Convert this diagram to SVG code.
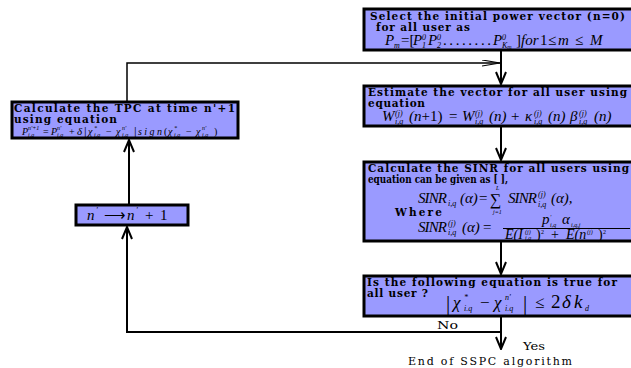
<svg xmlns="http://www.w3.org/2000/svg" width="631" height="368" viewBox="0 0 631 368">
<style>
.box{fill:#9a9aff;stroke:#000;stroke-width:3}
.t{font-family:"DejaVu Serif","Liberation Serif",serif;font-weight:bold;font-size:10.5px;fill:#000}
.m{font-family:"Liberation Serif",serif;font-style:italic;font-size:15px;fill:#000}
.u{font-style:normal}
.s{font-size:8px}
.ss{font-size:6px}
.ln{stroke:#000;stroke-width:2;fill:none}
.lab{font-family:"DejaVu Serif","Liberation Serif",serif;font-size:11px;fill:#000}
</style>
<defs>
<marker id="v" viewBox="0 0 14 12" markerWidth="14" markerHeight="12" refX="13" refY="6" orient="auto" markerUnits="userSpaceOnUse">
<path d="M1,1 L13,6 L1,11" fill="none" stroke="#000" stroke-width="2"/>
</marker>
<marker id="th" viewBox="0 0 19 7" markerWidth="19" markerHeight="7" refX="18" refY="3.5" orient="auto" markerUnits="userSpaceOnUse">
<path d="M0,0.5 L18,3.5 L0,6.5" fill="none" stroke="#000" stroke-width="1.2"/>
</marker>
</defs>

<g id="connectors">
<line class="ln" x1="501" y1="51" x2="501" y2="84" marker-end="url(#v)"/>
<line class="ln" x1="501" y1="126" x2="501" y2="160" marker-end="url(#v)"/>
<line class="ln" x1="501" y1="241" x2="501" y2="274" marker-end="url(#v)"/>
<line class="ln" x1="501" y1="317" x2="501" y2="349" marker-end="url(#v)"/>
<polyline class="ln" points="501,332 127,332 127,227" marker-end="url(#v)"/>
<line class="ln" x1="129" y1="204" x2="129" y2="140" marker-end="url(#v)"/>
<polyline points="127,101 127,63 500,63" fill="none" stroke="#000" stroke-width="1.5" marker-end="url(#th)"/>
<text class="lab" x="437" y="329" textLength="21" lengthAdjust="spacingAndGlyphs">No</text>
<text class="lab" x="523" y="350" textLength="22" lengthAdjust="spacingAndGlyphs">Yes</text>
<text class="lab" x="408" y="365" textLength="164" lengthAdjust="spacing">End of SSPC algorithm</text>
</g>

<g id="select">
<rect class="box" x="364" y="9" width="275" height="41"/>
<text class="t" x="370" y="20" textLength="255" lengthAdjust="spacing">Select the initial power vector (n=0)</text>
<text class="t" x="376" y="31" textLength="94" lengthAdjust="spacing">for all user as</text>
<text class="m" x="385" y="45">P</text>
<text class="m s" x="394" y="48">m</text>
<text class="m u" x="401" y="45">=[</text>
<text class="m" x="413" y="45">P</text><text class="m s" x="422" y="40">0</text><text class="m s" x="422" y="48">1</text>
<text class="m" x="428" y="45">P</text><text class="m s" x="437" y="40">0</text><text class="m s" x="437" y="48">2</text>
<text class="m u" x="443" y="45" textLength="48" lengthAdjust="spacing">........</text>
<text class="m" x="493" y="45">P</text><text class="m s" x="502" y="40">0</text><text class="m s" x="502" y="48">K<tspan class="ss" dy="1">m</tspan></text>
<text class="m u" x="516" y="45">]</text>
<text class="m" x="521" y="45">for</text>
<text class="m u" x="540" y="45">1</text>
<text class="m u" x="548" y="45">≤</text>
<text class="m" x="558" y="45">m</text>
<text class="m u" x="575" y="45">≤</text>
<text class="m" x="590" y="45">M</text>
</g>

<g id="estimate">
<rect class="box" x="364" y="86" width="275" height="40"/>
<text class="t" x="368" y="96" textLength="259" lengthAdjust="spacing">Estimate the vector for all user using</text>
<text class="t" x="368" y="107" textLength="57" lengthAdjust="spacing">equation</text>
<text class="m" x="382" y="121">W</text><text class="m s" x="395" y="116">(j)</text><text class="m s" x="395" y="124">i,q</text>
<text class="m" x="409" y="121">(n<tspan class="u">+1)</tspan></text>
<text class="m u" x="449" y="121">=</text>
<text class="m" x="462" y="121">W</text><text class="m s" x="475" y="116">(j)</text><text class="m s" x="475" y="124">i,q</text>
<text class="m" x="489" y="121">(n)</text>
<text class="m u" x="511" y="121">+</text>
<text class="m" x="525" y="121">κ</text><text class="m s" x="534" y="116">(j)</text><text class="m s" x="534" y="124">i,q</text>
<text class="m" x="548" y="121">(n)</text>
<text class="m" x="570" y="121">β</text><text class="m s" x="579" y="116">(j)</text><text class="m s" x="579" y="124">i,q</text>
<text class="m" x="594" y="121">(n)</text>
</g>

<g id="sinr">
<rect class="box" x="364" y="162" width="275" height="79"/>
<text class="t" x="368" y="172" textLength="261" lengthAdjust="spacing">Calculate the SINR for all users using</text>
<text class="t" x="368" y="183" textLength="140" lengthAdjust="spacingAndGlyphs">equation can be given as [ ],</text>
<text class="m" x="418" y="203" textLength="29" lengthAdjust="spacing">SINR</text><text class="m s" x="448" y="206">i,q</text>
<text class="m" x="460" y="203">(α)</text>
<text class="m u" x="479" y="203">=</text>
<text class="m u" x="490" y="205" style="font-size:16px">∑</text>
<text class="m ss" x="496" y="190">L</text>
<text class="m ss" x="493" y="214">j=1</text>
<text class="m" x="508" y="203" textLength="29" lengthAdjust="spacing">SINR</text><text class="m s" x="538" y="197">(j)</text><text class="m s" x="538" y="207">i,q</text>
<text class="m" x="551" y="203">(α),</text>
<text class="t" x="395" y="216" textLength="47" lengthAdjust="spacing">Where</text>
<text class="m" x="418" y="232" textLength="29" lengthAdjust="spacing">SINR</text><text class="m s" x="448" y="226">(j)</text><text class="m s" x="448" y="235">i,q</text>
<text class="m" x="462" y="232">(α)</text>
<text class="m u" x="483" y="232">=</text>
<text class="m" x="542" y="224">p</text><text class="m ss" x="550" y="219">'</text><text class="m ss" x="550" y="227">i,q</text>
<text class="m" x="562" y="224">α</text><text class="m ss" x="571" y="227">i,q,j</text>
<line x1="503" y1="228.5" x2="630" y2="228.5" stroke="#000" stroke-width="1"/>
<text class="m" x="505" y="239" style="font-size:14px">E(I</text><text class="m ss" x="525" y="234">(j)</text><text class="m ss" x="525" y="240">i,q</text>
<text class="m u" x="536" y="239" style="font-size:14px">)</text><text class="m ss u" x="541" y="234">2</text>
<text class="m u" x="551" y="239" style="font-size:14px">+</text>
<text class="m" x="566" y="239" style="font-size:14px">E(n</text><text class="m ss" x="587" y="234">(j)</text>
<text class="m u" x="598" y="239" style="font-size:14px">)</text><text class="m ss u" x="603" y="234">2</text>
</g>

<g id="check">
<rect class="box" x="364" y="276" width="275" height="40"/>
<text class="t" x="367" y="286" textLength="250" lengthAdjust="spacing">Is the following equation is true for</text>
<text class="t" x="367" y="297" textLength="61" lengthAdjust="spacing">all user ?</text>
<text class="m u" x="446" y="310" style="font-size:21px">|</text>
<text class="m" x="453" y="308" style="font-size:17px">χ</text><text class="m s" x="464" y="300">*</text><text class="m s" x="464" y="311">i.q</text>
<text class="m u" x="480" y="308" style="font-size:17px">−</text>
<text class="m" x="494" y="308" style="font-size:17px">χ</text><text class="m s" x="505" y="300">n'</text><text class="m s" x="505" y="311">i.q</text>
<text class="m u" x="523" y="310" style="font-size:21px">|</text>
<text class="m u" x="535" y="308" style="font-size:17px">≤</text>
<text class="m u" x="551" y="308" style="font-size:19px">2</text>
<text class="m" x="562" y="308" style="font-size:19px">δ</text>
<text class="m" x="574" y="308" style="font-size:19px">k</text>
<text class="m s" x="585" y="311">d</text>
</g>

<g id="tpc">
<rect class="box" x="12" y="102" width="226" height="36"/>
<text class="t" x="14" y="112" textLength="221" lengthAdjust="spacing">Calculate the TPC at time n'+1</text>
<text class="t" x="14" y="123" textLength="103" lengthAdjust="spacing">using equation</text>
<text class="m" x="22" y="135" style="font-size:10px">P</text><text class="m" x="28" y="130" style="font-size:6px">n'+1</text><text class="m" x="28" y="137" style="font-size:6px">i,q</text>
<text class="m u" x="43" y="135" style="font-size:10px">=</text>
<text class="m" x="51" y="135" style="font-size:10px">P</text><text class="m" x="57" y="130" style="font-size:6px">n'</text><text class="m" x="57" y="137" style="font-size:6px">i,q</text>
<text class="m u" x="69" y="135" style="font-size:10px">+</text>
<text class="m" x="77" y="135" style="font-size:11px">δ</text>
<text class="m u" x="84" y="136" style="font-size:13px">|</text>
<text class="m" x="88" y="135" style="font-size:10px">χ</text><text class="m" x="94" y="130" style="font-size:6px">*</text><text class="m" x="94" y="137" style="font-size:6px">i,q</text>
<text class="m u" x="106" y="135" style="font-size:10px">−</text>
<text class="m" x="116" y="135" style="font-size:10px">χ</text><text class="m" x="122" y="130" style="font-size:6px">n'</text><text class="m" x="122" y="137" style="font-size:6px">i,q</text>
<text class="m u" x="134" y="136" style="font-size:13px">|</text>
<text class="m" x="138" y="135" style="font-size:10px" textLength="24" lengthAdjust="spacing">sign</text>
<text class="m u" x="164" y="135" style="font-size:10px">(</text>
<text class="m" x="168" y="135" style="font-size:10px">χ</text><text class="m" x="174" y="130" style="font-size:6px">*</text><text class="m" x="174" y="137" style="font-size:6px">i,q</text>
<text class="m u" x="186" y="135" style="font-size:10px">−</text>
<text class="m" x="196" y="135" style="font-size:10px">χ</text><text class="m" x="202" y="130" style="font-size:6px">n'</text><text class="m" x="202" y="137" style="font-size:6px">i,q</text>
<text class="m u" x="214" y="135" style="font-size:10px">)</text>
</g>

<g id="increment">
<rect class="box" x="76" y="205" width="112" height="20"/>
<text class="m" x="87" y="220" style="font-size:15px">n</text><text class="m s" x="96" y="213">'</text>
<text class="m u" x="104" y="220" style="font-size:15px">⟶</text>
<text class="m" x="127" y="220" style="font-size:15px">n</text><text class="m s" x="136" y="213">'</text>
<text class="m u" x="145" y="220" style="font-size:15px">+</text>
<text class="m u" x="160" y="220" style="font-size:15px">1</text>
</g>
</svg>
